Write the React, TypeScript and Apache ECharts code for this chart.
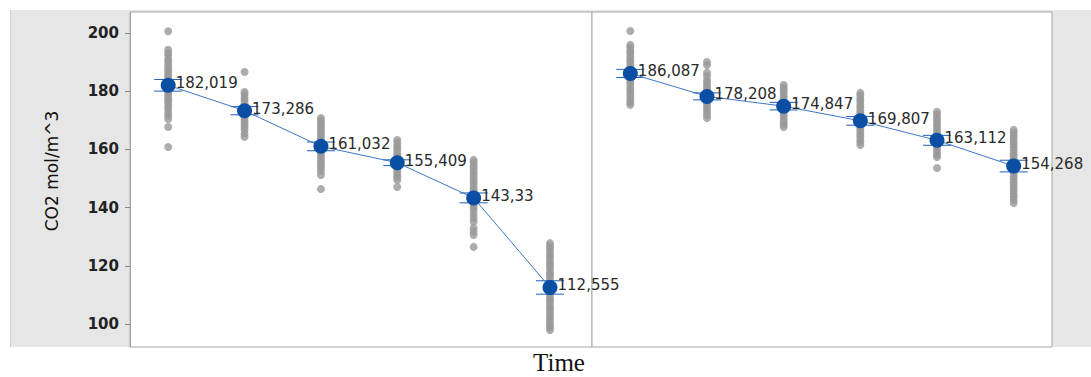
import React, { useEffect, useRef } from "react";
import * as echarts from "echarts";

// ---- Data ----
const yTicks = [100, 120, 140, 160, 180, 200];
const yMin = 92.1;
const yMax = 207.2;

const leftMeans = [182.019, 173.286, 161.032, 155.409, 143.33, 112.555];
const rightMeans = [186.087, 178.208, 174.847, 169.807, 163.112, 154.268];
const leftCI = [2.0, 1.4, 1.5, 1.0, 1.7, 2.3];
const rightCI = [1.4, 1.2, 1.3, 1.5, 1.7, 2.0];

const leftObs1 = [200.6, 194.2, 193.1, 192.3, 191.0, 190.2, 189.1, 188.0, 187.2, 186.1, 185.3, 184.2, 183.4, 182.5, 181.6, 180.4, 179.5, 178.7, 177.6, 176.8, 175.9, 174.8, 173.9, 172.7, 171.6, 170.4, 167.7, 160.8];
const leftObs2 = [186.6, 179.7, 178.9, 177.8, 176.9, 175.8, 174.7, 173.9, 172.8, 171.7, 170.9, 169.8, 168.8, 167.9, 166.8, 165.4, 164.3];
const leftObs3 = [170.8, 169.9, 168.8, 167.9, 166.8, 165.7, 164.9, 163.8, 162.9, 161.8, 160.7, 159.9, 158.8, 157.7, 156.9, 155.8, 154.7, 153.8, 152.6, 151.2, 146.4];
const leftObs4 = [163.2, 162.3, 161.2, 160.4, 159.3, 158.2, 157.4, 156.3, 155.4, 154.3, 153.4, 152.3, 151.4, 150.4, 149.5, 147.1];
const leftObs5 = [156.4, 155.5, 154.4, 153.5, 152.4, 151.5, 150.4, 149.3, 148.5, 147.4, 146.3, 145.5, 144.4, 143.3, 142.5, 141.4, 140.2, 139.2, 137.8, 136.5, 135.2, 133.0, 131.8, 130.6, 126.5];
const leftObs6 = [127.8, 126.8, 125.9, 124.8, 123.7, 122.9, 121.8, 120.7, 119.9, 118.8, 117.7, 116.9, 115.8, 114.7, 113.9, 112.8, 111.7, 110.9, 109.8, 108.7, 107.9, 106.8, 105.7, 104.9, 103.8, 102.7, 101.9, 100.8, 99.7, 98.9, 97.9];

const rightObs1 = [200.7, 195.9, 195.0, 193.9, 193.1, 192.0, 190.9, 190.1, 189.0, 188.1, 187.0, 185.9, 185.1, 184.0, 183.1, 182.0, 180.9, 180.1, 179.0, 178.1, 177.0, 176.1, 175.3];
const rightObs2 = [190.0, 189.0, 186.3, 185.2, 183.8, 183.0, 181.9, 181.0, 179.9, 179.0, 177.9, 177.0, 175.9, 174.9, 174.0, 172.9, 171.8, 170.8];
const rightObs3 = [182.1, 181.2, 180.2, 179.3, 178.2, 177.3, 176.2, 175.3, 174.2, 173.3, 172.2, 171.3, 170.2, 169.3, 168.5, 167.7];
const rightObs4 = [179.4, 178.5, 177.4, 176.5, 175.4, 174.5, 173.4, 172.5, 171.4, 170.5, 169.4, 168.5, 167.4, 166.5, 165.4, 164.5, 163.4, 162.5, 161.5];
const rightObs5 = [172.9, 172.0, 170.9, 170.0, 168.9, 168.0, 166.9, 166.0, 164.9, 164.0, 162.9, 162.0, 160.9, 160.0, 158.9, 158.1, 157.4, 153.6];
const rightObs6 = [166.7, 165.8, 164.7, 163.8, 162.7, 161.8, 160.7, 159.8, 158.7, 157.8, 156.7, 155.8, 154.7, 153.8, 152.7, 151.8, 150.7, 149.8, 148.7, 147.8, 146.7, 145.8, 144.7, 143.8, 142.7, 141.6];

const leftObs = [leftObs1, leftObs2, leftObs3, leftObs4, leftObs5, leftObs6];
const rightObs = [rightObs1, rightObs2, rightObs3, rightObs4, rightObs5, rightObs6];

const yAxisTitle = "CO2 mol/m^3";
const xAxisTitle = "Time";

// ---- Styles ----
const BLUE = "#0b4fa4";
const LINE_BLUE = "#3b78c6";
const BAR_BLUE = "#1d5fb6";
const DOT_GRAY = "#999999";
const BORDER = "#a6a6a6";

function panelSeries(idx: number, means: number[], ci: number[], obs: number[][]) {
  const dots: number[][] = [];
  obs.forEach((col, i) => col.forEach((v) => dots.push([i + 1, v])));
  const bars = means.map((m, i) => [i + 1, m - ci[i], m + ci[i]]);
  return [
    {
      type: "scatter",
      xAxisIndex: idx,
      yAxisIndex: idx,
      data: dots,
      symbol: "circle",
      symbolSize: 8,
      itemStyle: { color: DOT_GRAY },
      silent: true,
      z: 1,
    },
    {
      type: "custom",
      xAxisIndex: idx,
      yAxisIndex: idx,
      data: bars,
      encode: { x: 0, y: [1, 2] },
      z: 2,
      renderItem: (params: any, api: any) => {
        const x = api.value(0);
        const lo = api.coord([x, api.value(1)]);
        const hi = api.coord([x, api.value(2)]);
        const hw = 14;
        const st = { stroke: BAR_BLUE, lineWidth: 1 };
        return {
          type: "group",
          children: [
            { type: "line", shape: { x1: lo[0], y1: lo[1], x2: hi[0], y2: hi[1] }, style: st },
            { type: "line", shape: { x1: lo[0] - hw, y1: lo[1], x2: lo[0] + hw, y2: lo[1] }, style: st },
            { type: "line", shape: { x1: hi[0] - hw, y1: hi[1], x2: hi[0] + hw, y2: hi[1] }, style: st },
          ],
        };
      },
    },
    {
      type: "line",
      xAxisIndex: idx,
      yAxisIndex: idx,
      data: means.map((m, i) => [i + 1, m]),
      symbol: "circle",
      symbolSize: 15,
      lineStyle: { color: LINE_BLUE, width: 1 },
      itemStyle: { color: BLUE },
      z: 3,
      label: {
        show: true,
        position: "right",
        distance: 0,
        offset: [0, -2],
        fontFamily: "DejaVu Sans",
        fontSize: 15,
        color: "#2a2a2a",
        formatter: (p: any) => String(p.value[1]).replace(".", ","),
      },
    },
  ];
}

export default function App() {
  const ref = useRef<HTMLDivElement>(null);
  useEffect(() => {
    if (!ref.current) return;
    const chart = echarts.init(ref.current, undefined, { renderer: "svg" });
    const yAxisBase = {
      type: "value",
      min: yMin,
      max: yMax,
      splitLine: { show: false },
    };
    chart.setOption({
      animation: false,
      backgroundColor: "transparent",
      grid: [
        { left: 130, top: 12, width: 462, height: 335, show: true, backgroundColor: "#ffffff", borderColor: BORDER, borderWidth: 1 },
        { left: 592, top: 12, width: 460, height: 335, show: true, backgroundColor: "#ffffff", borderColor: BORDER, borderWidth: 1 },
      ],
      xAxis: [
        { type: "value", gridIndex: 0, min: 0.5, max: 6.55, show: false },
        { type: "value", gridIndex: 1, min: 0.5, max: 6.5, show: false },
      ],
      yAxis: [
        {
          ...yAxisBase,
          gridIndex: 0,
          axisLine: { show: true, lineStyle: { color: BORDER } },
          axisTick: { show: true, length: 5, customValues: yTicks, lineStyle: { color: "#888" } },
          axisLabel: {
            customValues: yTicks,
            margin: 11,
            fontFamily: "DejaVu Sans",
            fontSize: 15,
            fontWeight: "bold",
            color: "#222",
          },
        },
        { ...yAxisBase, gridIndex: 1, show: false },
      ],
      graphic: [
        {
          type: "text",
          x: 52,
          y: 171,
          rotation: Math.PI / 2,
          style: {
            text: yAxisTitle,
            fontFamily: "DejaVu Sans",
            fontSize: 17,
            fill: "#111",
            align: "center",
            verticalAlign: "middle",
          },
        },
        {
          type: "text",
          x: 559,
          y: 362,
          style: {
            text: xAxisTitle,
            fontFamily: "Liberation Serif",
            fontSize: 25,
            fill: "#111",
            align: "center",
            verticalAlign: "middle",
          },
        },
      ],
      series: [
        ...panelSeries(0, leftMeans, leftCI, leftObs),
        ...panelSeries(1, rightMeans, rightCI, rightObs),
      ],
    });
    return () => chart.dispose();
  }, []);
  return (
    <div style={{ position: "absolute", left: 0, top: 0, width: 1091, height: 377, background: "#ffffff" }}>
      <div style={{ position: "absolute", left: 10, top: 10, width: 1081, height: 337, background: "#e6e6e6", borderLeft: "1px solid #cfcfcf", boxSizing: "border-box" }} />
      <div ref={ref} style={{ position: "absolute", left: 0, top: 0, width: 1091, height: 377 }} />
    </div>
  );
}
